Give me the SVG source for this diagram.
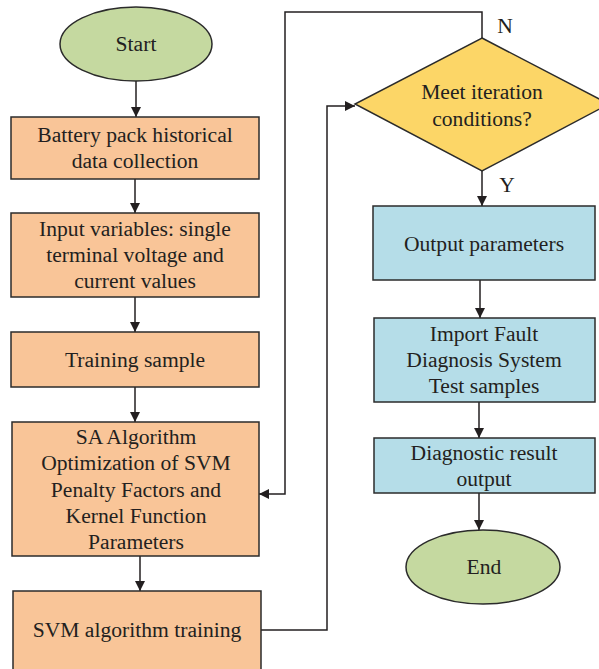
<svg xmlns="http://www.w3.org/2000/svg" width="599" height="669" viewBox="0 0 599 669">
<style>
.t text{font-family:'Liberation Serif','DejaVu Serif',serif;font-size:21.6px;fill:#231f20;text-anchor:middle}
.o{fill:#f9c598;stroke:#2b2b2b;stroke-width:1.5}
.g{fill:#c5d9a0;stroke:#2b2b2b;stroke-width:1.5}
.b{fill:#b5dde8;stroke:#2b2b2b;stroke-width:1.5}
.y{fill:#fcd667;stroke:#2b2b2b;stroke-width:1.5}
.c{fill:none;stroke:#231f20;stroke-width:1.5}
</style>
<defs>
<marker id="ah" viewBox="0 0 10 10" refX="10" refY="5" markerWidth="10" markerHeight="10" markerUnits="userSpaceOnUse" orient="auto">
<path d="M0,0 L10,5 L0,10 z" fill="#231f20"/>
</marker>
</defs>
<g class="t" font-family="Liberation Serif, serif">
<g id="connectors">
<path class="c" d="M136,81 V117" marker-end="url(#ah)"/>
<path class="c" d="M135,179 V213" marker-end="url(#ah)"/>
<path class="c" d="M135,297 V332" marker-end="url(#ah)"/>
<path class="c" d="M135,387 V422" marker-end="url(#ah)"/>
<path class="c" d="M140,556 V591" marker-end="url(#ah)"/>
<path class="c" d="M261,630 H327 V106 H355" marker-end="url(#ah)"/>
<path class="c" d="M482,38 V12 H285 V494 H259" marker-end="url(#ah)"/>
<path class="c" d="M482,171 V206" marker-end="url(#ah)"/>
<path class="c" d="M480,280 V318" marker-end="url(#ah)"/>
<path class="c" d="M479,402 V438" marker-end="url(#ah)"/>
<path class="c" d="M479,493 V530" marker-end="url(#ah)"/>
<text x="505" y="33">N</text>
<text x="507" y="192">Y</text>
</g>
<g id="start"><ellipse class="g" cx="136" cy="44" rx="76" ry="37"/><text x="136" y="51">Start</text></g>
<g id="collect"><rect class="o" x="11" y="117" width="248" height="62"/><text x="135" y="142">Battery pack historical</text><text x="135" y="168">data collection</text></g>
<g id="input"><rect class="o" x="11" y="213" width="248" height="84"/><text x="135" y="236">Input variables: single</text><text x="135" y="262">terminal voltage and</text><text x="135" y="288">current values</text></g>
<g id="sample"><rect class="o" x="11" y="332" width="248" height="55"/><text x="135" y="367">Training sample</text></g>
<g id="sa"><rect class="o" x="12" y="422" width="247" height="134"/><text x="136" y="444">SA Algorithm</text><text x="136" y="470">Optimization of SVM</text><text x="136" y="497">Penalty Factors and</text><text x="136" y="523">Kernel Function</text><text x="136" y="549">Parameters</text></g>
<g id="train"><rect class="o" x="13" y="591" width="248" height="90"/><text x="137" y="637">SVM algorithm training</text></g>
<g id="decision"><polygon class="y" points="482,38 609,104 482,171 355,104"/><text x="482" y="99">Meet iteration</text><text x="482" y="126">conditions?</text></g>
<g id="output"><rect class="b" x="373" y="206" width="222" height="74"/><text x="484" y="251">Output parameters</text></g>
<g id="import"><rect class="b" x="374" y="318" width="221" height="84"/><text x="484" y="341">Import Fault</text><text x="484" y="367">Diagnosis System</text><text x="484" y="393">Test samples</text></g>
<g id="diag"><rect class="b" x="374" y="438" width="221" height="55"/><text x="484" y="460">Diagnostic result</text><text x="484" y="486">output</text></g>
<g id="end"><ellipse class="g" cx="483" cy="567" rx="77" ry="37"/><text x="484" y="574">End</text></g>
</g>
</svg>
